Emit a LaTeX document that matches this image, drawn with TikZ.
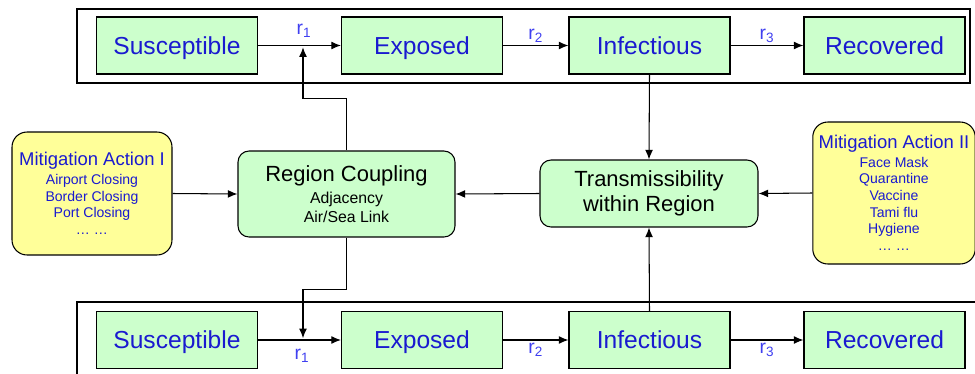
\documentclass[tikz,border=0pt]{standalone}
\usepackage{fontspec}
\setmainfont{Liberation Sans}
\usetikzlibrary{arrows.meta, positioning}

\definecolor{boxgreen}{HTML}{CCFFCC}
\definecolor{boxyellow}{HTML}{FFFF99}
\definecolor{txtblue}{HTML}{1A1AD0}
\definecolor{ratecol}{HTML}{3F3FF0}

\tikzset{
  state/.style={draw,line width=0.6pt,fill=boxgreen,text=txtblue,minimum width=3.22cm,minimum height=1.14cm,
    text height=10.5pt,text depth=0.5pt,font=\fontsize{14}{16}\selectfont},
  factor/.style={draw,line width=0.6pt,fill=boxgreen,rounded corners=0.22cm,align=center},
  action/.style={draw,line width=0.6pt,fill=boxyellow,rounded corners=0.3cm,align=center,text=txtblue,font=\fontsize{8}{9.5}\selectfont},
  link/.style={line width=0.6pt,-{Latex[length=5.5pt,width=4.5pt]}},
  rate/.style={text=ratecol,font=\fontsize{11}{12}\selectfont,inner sep=1.5pt}
}

\begin{document}
\begin{tikzpicture}[x=0.02cm,y=-0.02cm]
\useasboundingbox (0,0) rectangle (975,373);
%frames of the two regions
\draw[line width=0.7pt] (77,9) rectangle (970,83);
\draw[line width=0.7pt] (77,302) rectangle (990,395);
%top region
\node[state] (s1) at (177,45.5) {Susceptible};
\node[state] (e1) at (422,45.5) {Exposed};
\node[state] (i1) at (649.5,45.5) {Infectious};
\node[state] (v1) at (884.5,45.5) {Recovered};
\coordinate (j1) at (303,45.5);
\draw[link] (s1) -- (e1);
\node[rate] at (304,31) {r\textsubscript{1}};
\draw[link] (e1) -- (i1) node[rate,midway,above] {r\textsubscript{2}};
\draw[link] (i1) -- (v1) node[rate,midway,above] {r\textsubscript{3}};
%bottom region
\node[state] (s2) at (177,340) {Susceptible};
\node[state] (e2) at (422,340) {Exposed};
\node[state] (i2) at (649.5,340) {Infectious};
\node[state] (v2) at (884.5,340) {Recovered};
\coordinate (j2) at (303,340);
\draw[link] (s2) -- (e2);
\node[rate] at (302,356) {r\textsubscript{1}};
\draw[link] (e2) -- (i2) node[rate,midway,below] {r\textsubscript{2}};
\draw[link] (i2) -- (v2) node[rate,midway,below] {r\textsubscript{3}};
%factors between the regions
\node[factor,minimum width=4.34cm,minimum height=1.72cm,font=\fontsize{9}{10.8}\selectfont] (cpl) at (346.5,194)
  {{\fontsize{12.5}{14}\selectfont Region Coupling}\\[2pt]
   Adjacency\\ Air/Sea Link};
\node[factor,minimum width=4.36cm,minimum height=1.34cm,font=\fontsize{12.5}{14}\selectfont] (trn) at (649,193.5)
  {Transmissibility\\ within Region};
%mitigation actions
\node[action,minimum width=3.2cm,minimum height=2.46cm] (act1) at (92,193.5)
  {{\fontsize{10.5}{11}\selectfont Mitigation Action I}\\[1pt]
   Airport Closing\\ Border Closing\\ Port Closing\\ \dots\ \dots};
\node[action,minimum width=3.16cm,minimum height=2.84cm] (act2) at (894,193)
  {{\fontsize{10.5}{11}\selectfont Mitigation Action II}\\[1pt]
   Face Mask\\ Quarantine\\ Vaccine\\ Tami flu\\ Hygiene\\ \dots\ \dots};
%arrows between boxes
\draw[link] (act1.east) -- (cpl.west);
\draw[link] (act2.west) -- (trn.east);
\draw[link] (trn.west) -- (cpl.east);
\draw[link] (i1.south) -- (trn.north);
\draw[link] (i2.north) -- (trn.south);
\draw[link] (cpl.north) -- ++(0,-52) -| ([yshift=-1pt]j1);
\draw[link] (cpl.south) -- ++(0,52) -| ([yshift=1pt]j2);
\end{tikzpicture}
\end{document}
